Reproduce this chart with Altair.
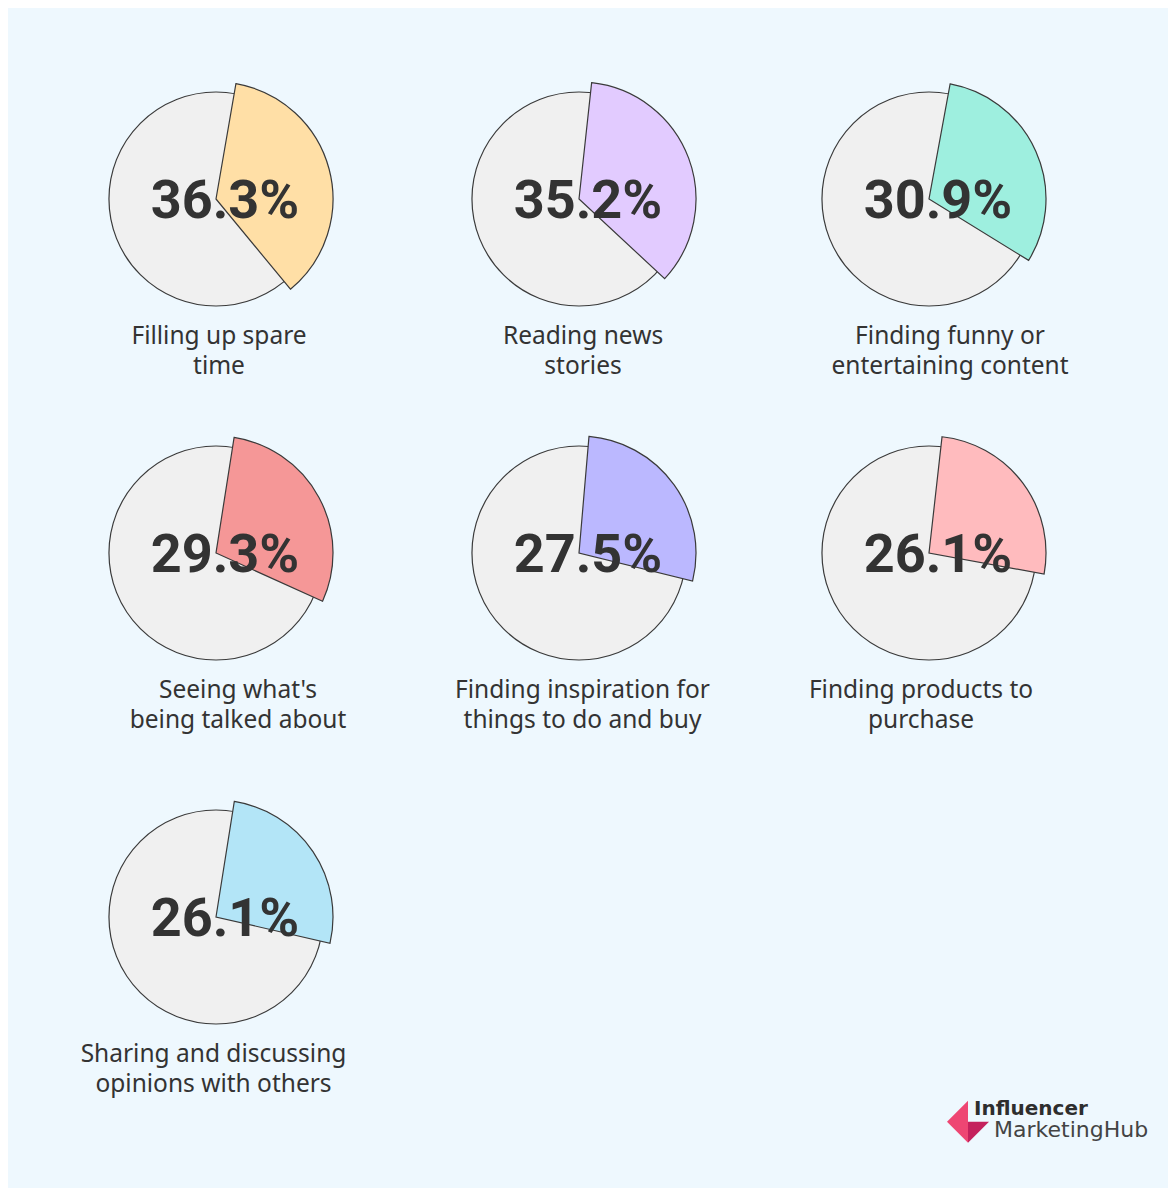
import math
import altair as alt
import pandas as pd

# ---- data ----
categories = [
    ["Filling up spare", "time"],
    ["Reading news", "stories"],
    ["Finding funny or", "entertaining content"],
    ["Seeing what's", "being talked about"],
    ["Finding inspiration for", "things to do and buy"],
    ["Finding products to", "purchase"],
    ["Sharing and discussing", "opinions with others"],
]
values = [36.3, 35.2, 30.9, 29.3, 27.5, 26.1, 26.1]

# ---- styles ----
slice_colors = ["#FFDFA6", "#E2CBFF", "#9EEFDF", "#F59797", "#BBB8FF", "#FFBBBE", "#B3E5F7"]
slice_rotation_deg = [9.8, 6.2, 10.4, 8.9, 4.9, 6.4, 9.0]
label_dx = [3, 4, 21, 22, 3.5, -8, -2.5]
GREY = "#F0F0F0"
STROKE = "#3A3A3A"
BG = "#EEF8FE"
TEXT = "#333333"
col_widths = [310, 302, 284]
CELL_H = 240
HSPACE = 57


def pie(i, w):
    df = pd.DataFrame({"value": [values[i]], "label": [f"{values[i]:.1f}%"]})
    off = math.radians(slice_rotation_deg[i])
    base = alt.Chart(df)
    grey = base.mark_arc(theta=0, theta2=2 * math.pi, radius=107, stroke=STROKE,
                         strokeWidth=1.2).encode(color=alt.value(GREY))
    sl = base.mark_arc(radius=117, stroke=STROKE, strokeWidth=1.2).encode(
        theta=alt.Theta("value:Q", stack=True,
                        scale=alt.Scale(domain=[0, 100], range=[off, off + 2 * math.pi])),
        color=alt.value(slice_colors[i]),
    )
    txt = base.mark_text(font="Roboto", fontWeight="bold", fontSize=54, color=TEXT,
                         dx=9, dy=3, baseline="middle", align="center").encode(text="label:N")
    return alt.layer(grey, sl, txt).properties(
        width=w, height=CELL_H,
        title=alt.TitleParams(categories[i], orient="bottom", anchor="middle",
                              font="Noto Sans", fontSize=24.5, fontWeight="normal",
                              color=TEXT, lineHeight=29.5, offset=6, dx=label_dx[i]),
    )


# logo
logo_df = pd.DataFrame({"a": [1]})
lb = alt.Chart(logo_df)
light = lb.mark_point(shape="M -1 0 L 0 -1 L 0 1 Z", size=1764, filled=True, opacity=1,
                      color="#EE4673").encode(x=alt.value(540), y=alt.value(324.7))
dark = lb.mark_point(shape="M 0 0 L 1 0 L 0 1 Z", size=1764, filled=True, opacity=1,
                     color="#C4215C").encode(x=alt.value(540), y=alt.value(324.7))
t1 = lb.mark_text(text="Influencer", font="DejaVu Sans", fontWeight="bold", fontSize=20,
                  color="#2E2E2E", align="left", baseline="alphabetic").encode(
    x=alt.value(546), y=alt.value(318))
t2 = lb.mark_text(text="MarketingHub", font="DejaVu Sans", fontSize=22,
                  color="#444444", align="left", baseline="alphabetic").encode(
    x=alt.value(566), y=alt.value(340))
logo = alt.layer(light, dark, t1, t2).properties(width=730, height=360)

row1 = alt.hconcat(pie(0, col_widths[0]), pie(1, col_widths[1]), pie(2, col_widths[2]), spacing=HSPACE)
row2 = alt.hconcat(pie(3, col_widths[0]), pie(4, col_widths[1]), pie(5, col_widths[2]), spacing=HSPACE)
row3 = alt.hconcat(pie(6, col_widths[0]), logo, spacing=HSPACE)

chart = alt.vconcat(row1, alt.vconcat(row2, row3, spacing=65), spacing=55).properties(
    background=BG,
    padding={"left": 53, "top": 71, "right": 10, "bottom": 31},
).configure_view(strokeWidth=0)

chart.save("out.html", embed_options={"renderer": "svg", "actions": False})
